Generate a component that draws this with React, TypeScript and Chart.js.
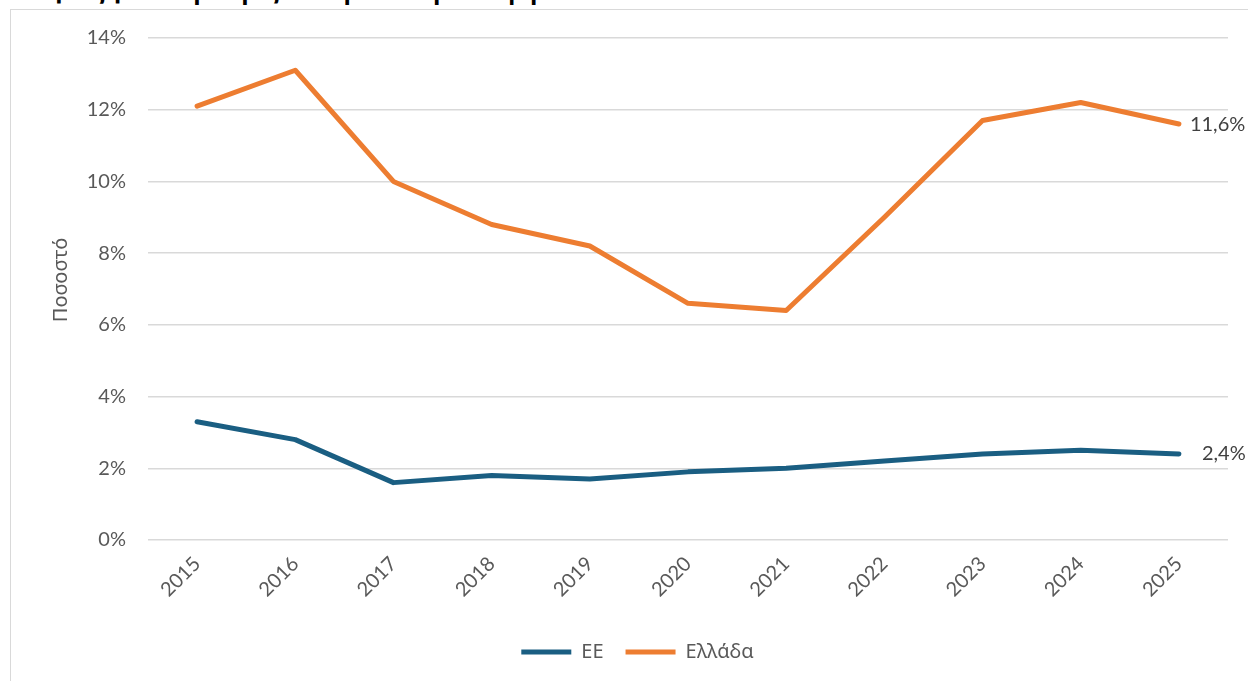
import React, { useEffect, useRef } from "react";
import { Chart, registerables } from "chart.js";

Chart.register(...registerables);

// ---- data ----
const years = ["2015", "2016", "2017", "2018", "2019", "2020", "2021", "2022", "2023", "2024", "2025"];
const euValues = [3.3, 2.8, 1.6, 1.8, 1.7, 1.9, 2.0, 2.2, 2.4, 2.5, 2.4];
const greeceValues = [12.1, 13.1, 10.0, 8.8, 8.2, 6.6, 6.4, 9.0, 11.7, 12.2, 11.6];
const seriesNames = ["ΕΕ", "Ελλάδα"];
const yMin = 0;
const yMax = 14;
const yStep = 2;
const yAxisTitle = "Ποσοστό";
const titleText = "ανάγκες για ιατρική εξέταση και περίθαλψη";

// ---- styles ----
const EU_COLOR = "#1A5E82";
const GR_COLOR = "#ED7D31";
const TEXT_COLOR = "#595959";
const LABEL_COLOR = "#404040";
const GRID_COLOR = "#d9d9d9";
const NUM_FONT = "Lato, 'Noto Sans', sans-serif";
const GREEK_FONT = "'Noto Sans', 'Open Sans', sans-serif";

const fmt = (v: number) => v.toFixed(1).replace(".", ",") + "%";

const endLabelPlugin = {
  id: "endLabels",
  afterDatasetsDraw(chart: any) {
    const ctx = chart.ctx;
    const offsets = [23, 11];
    ctx.save();
    ctx.font = `20px ${NUM_FONT}`;
    ctx.fillStyle = LABEL_COLOR;
    ctx.textAlign = "left";
    ctx.textBaseline = "middle";
    chart.data.datasets.forEach((ds: any, i: number) => {
      const meta = chart.getDatasetMeta(i);
      const last = meta.data[meta.data.length - 1];
      if (!last) return;
      const v = ds.data[ds.data.length - 1];
      ctx.fillText(fmt(v), last.x + offsets[i], last.y);
    });
    ctx.restore();
  },
};

const yTitlePlugin = {
  id: "yTitle",
  afterDraw(chart: any) {
    const ctx = chart.ctx;
    ctx.save();
    ctx.font = `20px ${GREEK_FONT}`;
    ctx.fillStyle = TEXT_COLOR;
    ctx.textAlign = "center";
    ctx.textBaseline = "middle";
    ctx.translate(50, 270);
    ctx.rotate(-Math.PI / 2);
    ctx.fillText(yAxisTitle, 0, 0);
    ctx.restore();
  },
};

function LineChart() {
  const ref = useRef<HTMLCanvasElement | null>(null);
  useEffect(() => {
    if (!ref.current) return;
    const chart = new Chart(ref.current, {
      type: "line",
      data: {
        labels: years,
        datasets: [
          {
            label: seriesNames[0],
            data: euValues,
            borderColor: EU_COLOR,
            backgroundColor: EU_COLOR,
            borderWidth: 5,
            pointRadius: 0,
            borderCapStyle: "round",
            borderJoinStyle: "round",
            tension: 0,
          },
          {
            label: seriesNames[1],
            data: greeceValues,
            borderColor: GR_COLOR,
            backgroundColor: GR_COLOR,
            borderWidth: 5,
            pointRadius: 0,
            borderCapStyle: "round",
            borderJoinStyle: "round",
            tension: 0,
          },
        ],
      },
      options: {
        responsive: false,
        animation: false,
        devicePixelRatio: 1,
        layout: { padding: { left: 36, right: 20, top: 28, bottom: 9 } },
        plugins: {
          tooltip: { enabled: false },
          legend: {
            position: "bottom",
            labels: {
              usePointStyle: true,
              pointStyle: "line",
              pointStyleWidth: 50,
              padding: 22,
              color: TEXT_COLOR,
              font: { size: 20, family: GREEK_FONT },
            },
          },
        },
        scales: {
          x: {
            offset: true,
            grid: { display: false, drawTicks: false },
            border: { display: false },
            ticks: {
              autoSkip: false,
              minRotation: 45,
              maxRotation: 45,
              padding: 12,
              color: TEXT_COLOR,
              font: { size: 20, family: NUM_FONT },
            },
            afterFit(scale: any) {
              scale.height = 80;
            },
          },
          y: {
            min: yMin,
            max: yMax,
            grid: { color: GRID_COLOR, lineWidth: 1.5, drawTicks: false },
            border: { display: false },
            ticks: {
              stepSize: yStep,
              padding: 22,
              color: TEXT_COLOR,
              font: { size: 20, family: NUM_FONT },
              callback: (v: any) => v + "%",
            },
            afterFit(scale: any) {
              scale.width = 101;
              scale.paddingTop = 0;
              scale.paddingBottom = 0;
            },
          },
        },
      },
      plugins: [endLabelPlugin, yTitlePlugin],
    } as any);
    return () => chart.destroy();
  }, []);
  return (
    <canvas
      ref={ref}
      width={1237}
      height={671}
      style={{ position: "absolute", left: 11, top: 10, width: 1237, height: 671 }}
    />
  );
}

export default function App() {
  return (
    <div
      style={{
        position: "absolute",
        left: 0,
        top: 0,
        width: 1248,
        height: 681,
        overflow: "hidden",
        background: "#ffffff",
      }}
    >
      <div
        style={{
          position: "absolute",
          left: 8,
          top: -20,
          whiteSpace: "nowrap",
          fontFamily: GREEK_FONT,
          fontWeight: 700,
          fontSize: 24,
          lineHeight: "20px",
          color: "#000000",
        }}
      >
        {titleText}
      </div>
      <div
        style={{
          position: "absolute",
          left: 10,
          top: 9,
          width: 1300,
          height: 700,
          border: "1px solid #d9d9d9",
          boxSizing: "border-box",
        }}
      />
      <LineChart />
    </div>
  );
}
